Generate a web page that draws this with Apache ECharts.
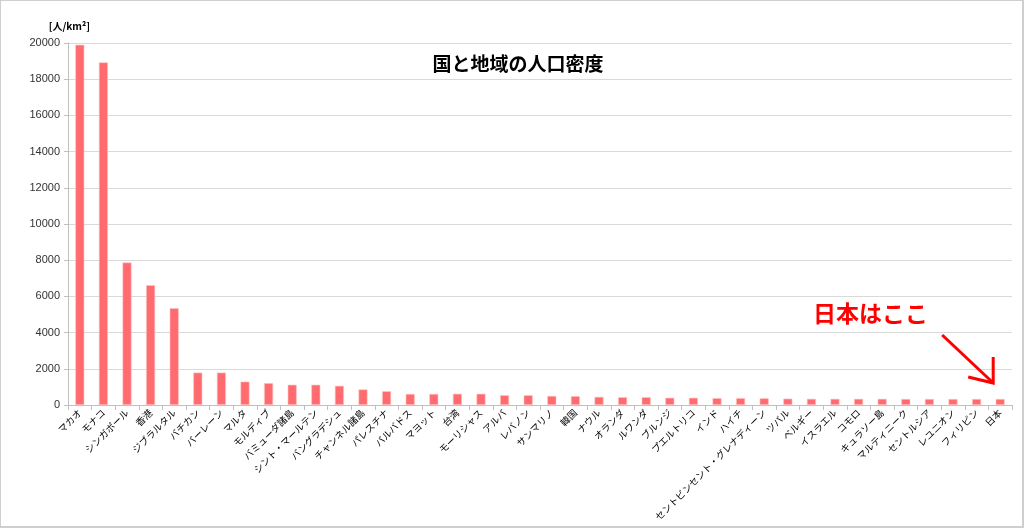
<!DOCTYPE html>
<html style="height: 100%">
<head>
    <meta charset="utf-8">
    <script type="text/javascript" src="https://cdn.jsdelivr.net/npm/echarts@6/dist/echarts.min.js"></script>
</head>
<body style="height: 100%; margin: 0; background: #fff">

<div id="container" style="position: absolute; left: 0; top: 0; width: 1021px; height: 525px; border: 1px solid #cfcfcf; border-right-width: 2px; border-bottom-width: 2px"></div>

<script type="text/javascript">
    var countries = ["マカオ", "モナコ", "シンガポール", "香港", "ジブラルタル", "バチカン", "バーレーン", "マルタ",
        "モルディブ", "バミューダ諸島", "シント・マールテン", "バングラデシュ", "チャンネル諸島", "パレスチナ",
        "バルバドス", "マヨット", "台湾", "モーリシャス", "アルバ", "レバノン", "サンマリノ", "韓国", "ナウル",
        "オランダ", "ルワンダ", "ブルンジ", "プエルトリコ", "インド", "ハイチ", "セントビンセント・グレナディーン",
        "ツバル", "ベルギー", "イスラエル", "コモロ", "キュラソー島", "マルティニーク", "セントルシア",
        "レユニオン", "フィリピン", "日本"];
    var density = [19900, 18930, 7870, 6620, 5350, 1790, 1790, 1290,
        1210, 1120, 1120, 1060, 860, 760,
        610, 610, 620, 620, 540, 540, 500, 490, 450,
        430, 430, 400, 400, 380, 380, 370,
        350, 340, 340, 340, 340, 330, 330,
        330, 330, 330];
    var yTicks = [0, 2000, 4000, 6000, 8000, 10000, 12000, 14000, 16000, 18000, 20000];

    var dom = document.getElementById("container");
    var myChart = echarts.init(dom);

    var option = {
        animation: false,
        backgroundColor: "#fff",
        title: {
            text: "国と地域の人口密度",
            left: 512,
            top: 48,
            textAlign: "center",
            textStyle: {
                fontFamily: "Noto Sans CJK JP",
                fontSize: 19,
                fontWeight: "bold",
                color: "#000"
            }
        },
        grid: {
            left: 67,
            right: 10,
            top: 42,
            bottom: 121,
            outerBoundsMode: "none",
            containLabel: false
        },
        xAxis: {
            type: "category",
            data: countries,
            axisLine: {lineStyle: {color: "#bfbfbf"}},
            axisTick: {show: true, alignWithLabel: false, length: 5, lineStyle: {color: "#bfbfbf"}},
            axisLabel: {
                rotate: 45,
                interval: 0,
                margin: 6,
                fontFamily: "Noto Sans CJK JP",
                fontSize: 9.5,
                color: "#000"
            }
        },
        yAxis: {
            type: "value",
            min: yTicks[0],
            max: yTicks[yTicks.length - 1],
            interval: 2000,
            name: "[人/km²]",
            nameLocation: "end",
            nameGap: 12,
            nameTextStyle: {
                fontFamily: "Noto Sans CJK JP",
                fontSize: 10,
                fontWeight: "bold",
                color: "#000",
                align: "right",
                padding: [0, -22, 0, 0]
            },
            axisLine: {show: true, lineStyle: {color: "#bfbfbf"}},
            axisTick: {show: true, length: 4, lineStyle: {color: "#bfbfbf"}},
            splitLine: {lineStyle: {color: "#d9d9d9"}},
            axisLabel: {
                fontFamily: "Liberation Sans",
                fontSize: 11,
                color: "#333",
                margin: 8,
                formatter: function (v) { return String(v); }
            }
        },
        series: [{
            type: "bar",
            data: density,
            barWidth: 9,
            itemStyle: {
                color: "#ff6b6e",
                borderColor: "#ffc4c4",
                borderWidth: 0.6
            }
        }]
    };

    myChart.setOption(option);

    // annotation pointing at Japan's bar
    var japan = myChart.convertToPixel({xAxisIndex: 0, yAxisIndex: 0}, ["日本", density[density.length - 1]]);
    var tipX = japan[0] - 8, tipY = japan[1] - 17;
    var startX = tipX - 50, startY = tipY - 47;
    myChart.setOption({
        graphic: [
            {
                type: "text",
                left: 812,
                top: 301,
                style: {
                    text: "日本はここ",
                    fill: "#ff0000",
                    font: "bold 23px 'Noto Sans CJK JP'"
                }
            },
            {
                type: "polyline",
                shape: {points: [[startX, startY], [tipX, tipY]]},
                style: {stroke: "#ff0000", lineWidth: 3}
            },
            {
                type: "polyline",
                shape: {
                    points: [
                        [tipX + 1, tipY - 25],
                        [tipX + 1, tipY + 1],
                        [tipX - 24, tipY - 5]
                    ]
                },
                style: {stroke: "#ff0000", lineWidth: 3, fill: null, lineJoin: "miter"}
            }
        ]
    });
</script>
</body>
</html>
